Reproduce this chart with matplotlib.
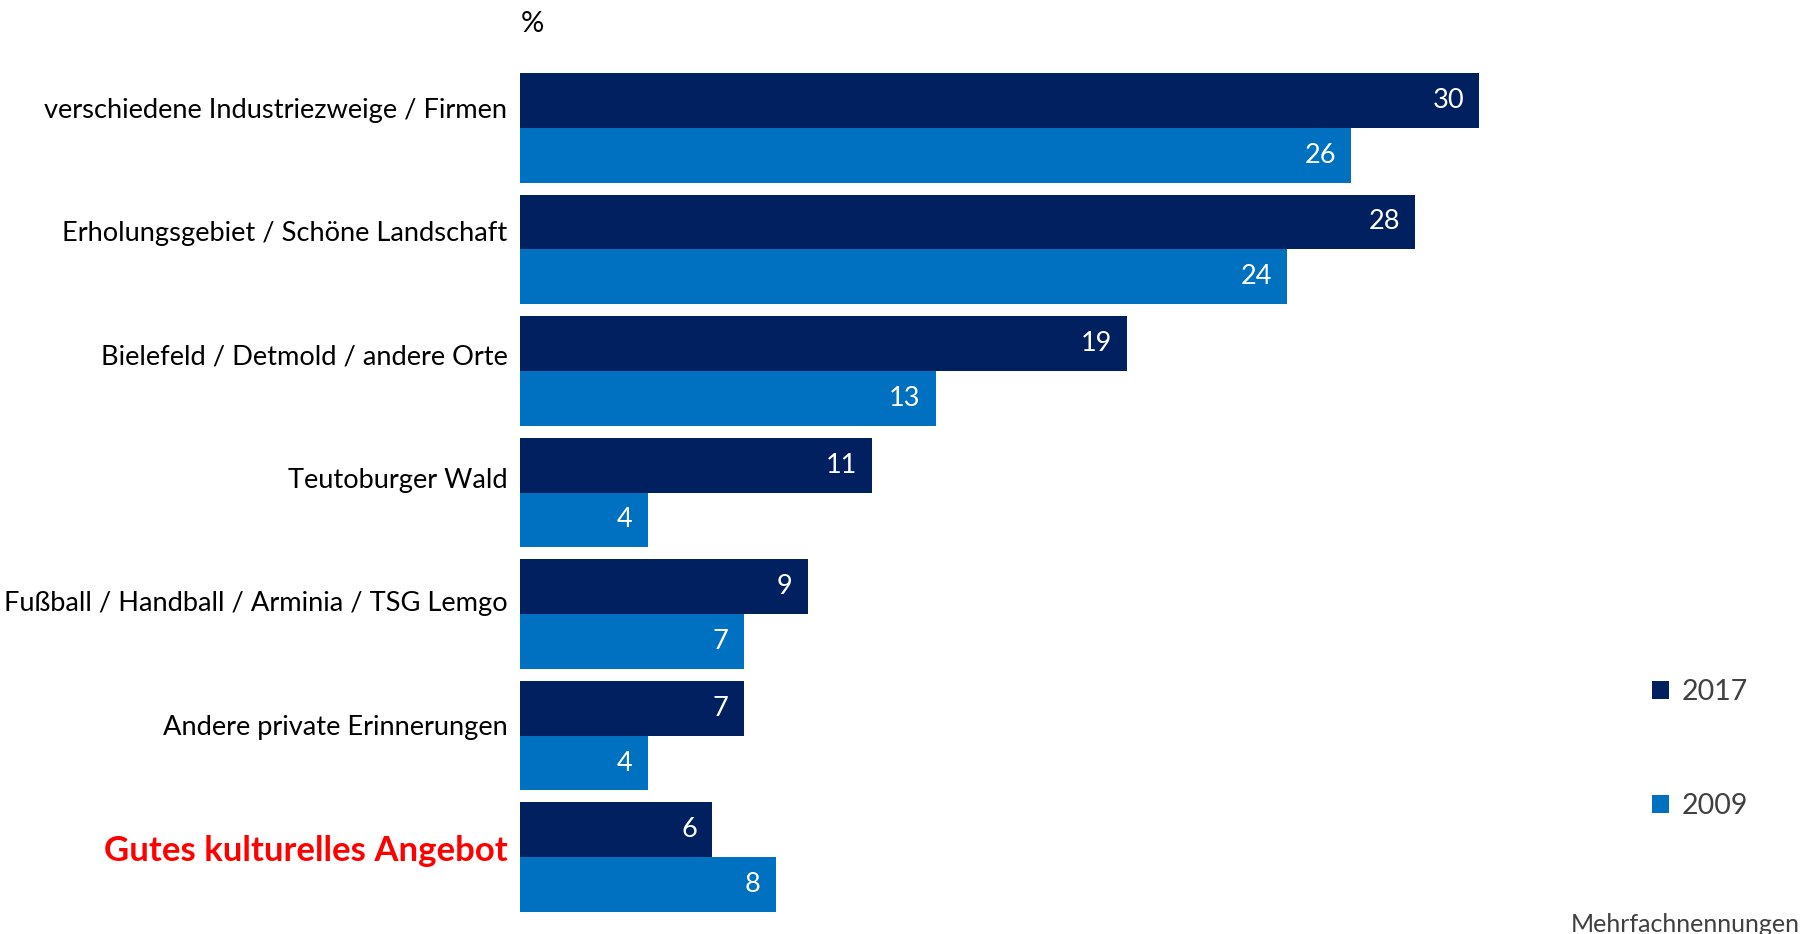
import matplotlib.pyplot as plt
import numpy as np

plt.rcParams['font.family'] = ['Lato', 'DejaVu Sans']

# Daten
kategorien = ['verschiedene Industriezweige / Firmen',
              'Erholungsgebiet / Schöne Landschaft',
              'Bielefeld / Detmold / andere Orte',
              'Teutoburger Wald',
              'Fußball / Handball / Arminia / TSG Lemgo',
              'Andere private Erinnerungen',
              'Gutes kulturelles Angebot']
werte_2017 = [30, 28, 19, 11, 9, 7, 6]
werte_2009 = [26, 24, 13, 4, 7, 4, 8]
jahre = ['2017', '2009']
farben = ['#002060', '#0070C0']

fig = plt.figure(figsize=(18.02, 9.34), dpi=100)
ax = fig.add_axes([520 / 1802, 22 / 934, 959 / 1802, 839 / 934])

y = np.arange(len(kategorien))
h = 0.4525
b1 = ax.barh(y - h / 2, werte_2017, height=h, color=farben[0], label=jahre[0])
b2 = ax.barh(y + h / 2, werte_2009, height=h, color=farben[1], label=jahre[1])

# Werte in die Balken schreiben
for bars in (b1, b2):
    for bar in bars:
        w = bar.get_width()
        ax.annotate(str(int(w)), (w, bar.get_y() + bar.get_height() / 2),
                    xytext=(-15, 0), textcoords='offset pixels',
                    ha='right', va='center', color='white', fontsize=19.5)

ax.set_xlim(0, 30)
ax.set_ylim(6.4525, -0.4525)
# Beschriftungen stehen etwas oberhalb der Gruppenmitte (wie im Original)
ax.set_yticks(-0.1645 + 1.0152 * y)
ax.set_yticklabels(kategorien, fontsize=19.6)
for lbl in ax.get_yticklabels():
    if lbl.get_text() == 'Gutes kulturelles Angebot':
        lbl.set_color('#FF0000')
        lbl.set_fontweight('bold')
        lbl.set_fontsize(25)
ax.tick_params(axis='y', length=0, pad=9)
ax.set_xticks([])
for s in ax.spines.values():
    s.set_visible(False)

fig.text(521 / 1802, 1 - 24 / 934, '%', fontsize=21, va='center', ha='left')

# Legende
leg = fig.legend(handles=[b1, b2], loc='center left',
                 bbox_to_anchor=(1626 / 1802, 1 - 749 / 934),
                 frameon=False, fontsize=20.5, labelspacing=3.1,
                 handlelength=0.62, handleheight=0.62, handletextpad=0.45)
for t in leg.get_texts():
    t.set_color('#404040')

fig.text(1800 / 1802, 1 - 924 / 934, 'Mehrfachnennungen', fontsize=18,
         color='#404040', ha='right', va='center')

fig.savefig('out.png', dpi=100)
